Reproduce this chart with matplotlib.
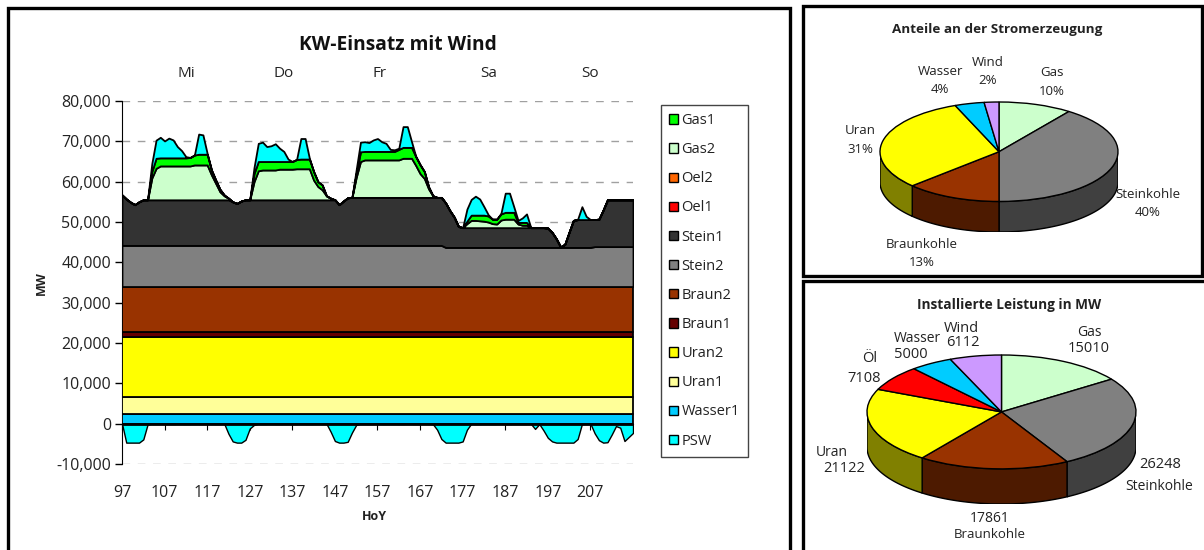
import numpy as np
import matplotlib
matplotlib.use('Agg')
import matplotlib.pyplot as plt
from matplotlib.patches import Patch, Rectangle

plt.rcParams['font.family'] = ['Open Sans', 'DejaVu Sans']
plt.rcParams['axes.unicode_minus'] = False

W, H = 1204, 550

# Hour of year axis
hours = np.arange(97, 218)
day_names = ['Mi', 'Do', 'Fr', 'Sa', 'So']
day_hours = [112, 135, 157.5, 183, 207]

# Flat layers [MW]
wasser1 = [2500] * 121
uran1 = [4000] * 121
uran2 = [15000] * 121
braun1 = [1300] * 121
braun2 = [11200] * 121
stein2 = [10200] * 76 + [9700] * 35 + [9900] * 10

# Upper edge of Stein1 [MW]
stein1_top = ([56700, 55700, 54900, 54300, 55000] + [55500] * 21 +
              [55000, 54600, 55200] + [55500] * 22 +
              [54300, 55200, 56000] + [56100] * 22 +
              [54700, 52800, 51200, 48900] + [48600] * 20 +
              [48500, 47400, 45800, 43800, 44500, 47500, 50400] +
              [50600] * 5 + [50700, 53000] + [55500] * 7)

# Gas and pump storage, given per day as (first hour, values)
gas2_days = [
    (103, [0, 5400, 7800, 8400, 8400, 8400, 8400, 8400, 8400, 8400, 8400, 8650, 8650, 8650, 8650, 6200, 4100, 2000, 1000, 400]),
    (127, [0, 4500, 7200, 7400, 7400, 7400, 7400, 7600, 7600, 7600, 7600, 7700, 7700, 7700, 7700, 4900, 3300, 2500, 1000, 400]),
    (151, [0, 5000, 8900, 9300, 9300, 9300, 9300, 9300, 9300, 9300, 9300, 9300, 9700, 9700, 9700, 7900, 5900, 4700, 2100, 400]),
    (177, [0, 1000, 1800, 1800, 1700, 1600, 1400, 1000, 900, 1900, 2100, 2100, 2100, 900, 600, 600]),
]
gas1_days = [
    (104, [1600, 2500, 2000, 2000, 2000, 2000, 2000, 2000, 2000, 2100, 2450, 2650, 2650, 2650, 1200, 800, 600, 200]),
    (128, [2000, 2300, 2100, 2100, 2100, 2100, 1900, 1900, 1900, 1900, 2300, 2400, 2400, 2400, 2100, 1200, 1200]),
    (152, [900, 2400, 2100, 2100, 2100, 2100, 2100, 2100, 2100, 2100, 2600, 2700, 2700, 2700, 2200, 2200, 1700, 500]),
    (178, [600, 1300, 1300, 1400, 1500, 1500, 1100, 1200, 1500, 1700, 1700, 1700, 400, 700, 700]),
]
psw_pos_days = [
    (104, [2000, 4500, 5100, 4200, 4900, 4450, 2800, 1800, 300, 0, 0, 5000, 4800, 200]),
    (128, [1500, 4500, 4800, 3700, 3900, 4400, 3300, 2500, 600, 0, 0, 5100, 5100, 200]),
    (152, [1000, 2400, 2400, 2200, 2850, 3200, 2400, 2000, 500, 400, 300, 5150, 5150, 1400]),
    (178, [3000, 3900, 4700, 4000, 2100, 300, 0, 0, 200, 4750, 4750, 1400, 500, 1100, 2100]),
    (204, [100, 3200, 800]),
]
psw_neg_days = [
    (97, [0, -4700, -4700, -4700, -4700, -3900, -200]),
    (121, [0, -2500, -4400, -4700, -4700, -4000, -1200, -300]),
    (145, [0, -2000, -4300, -4700, -4700, -4500, -2200, -300]),
    (170, [-100, -1500, -3800, -4700, -4700, -4700, -4700, -4400, -1500]),
    (194, [-1300, -100, -1700, -3500, -4400, -4700, -4700, -4700, -4700, -4700, -3800, -100]),
    (208, [-2400, -4100, -4700, -4600, -2700, -600, -1000, -4300, -3300, -2300]),
]

# Pie charts
pie1_values = [10, 40, 13, 31, 4, 2]
pie1_colors = ['#CCFFCC', '#808080', '#993300', '#FFFF00', '#00CCFF', '#CC99FF']
pie2_values = [15010, 26248, 17861, 21122, 7108, 5000, 6112]
pie2_colors = ['#CCFFCC', '#808080', '#993300', '#FFFF00', '#FF0000', '#00CCFF', '#CC99FF']

legend_names = ['Gas1', 'Gas2', 'Oel2', 'Oel1', 'Stein1', 'Stein2', 'Braun2', 'Braun1',
                'Uran2', 'Uran1', 'Wasser1', 'PSW']
legend_colors = ['#00FF00', '#CCFFCC', '#FF6600', '#FF0000', '#333333', '#808080', '#993300',
                 '#660000', '#FFFF00', '#FFFF99', '#00CCFF', '#00FFFF']


def from_days(days):
    out = np.zeros(len(hours))
    for first, vals in days:
        out[first - 97:first - 97 + len(vals)] = vals
    return out


def px_rect(x0, y0, x1, y1):
    # pixel box (y from the top) to figure fractions
    return [x0 / W, 1 - y1 / H, (x1 - x0) / W, (y1 - y0) / H]


def label(x, y, txt, **kw):
    kw.setdefault('fontsize', 9.5)
    kw.setdefault('color', '#222222')
    fig.text(x / W, 1 - y / H, txt, ha='center', va='center', **kw)


def pie3d(rect, values, colors, depth):
    # depth is given as a share of the vertical radius
    ax = fig.add_axes(rect)
    ax.pie(values, colors=colors, startangle=90, counterclock=False, radius=1,
           wedgeprops=dict(edgecolor='black', linewidth=1))
    ax.set_aspect('auto')
    ax.set_xlim(-1, 1)
    ax.set_ylim(-1 - depth, 1)
    edges = 90 - 360 * np.cumsum([0] + list(values)) / np.sum(values)
    for k, col in enumerate(colors):
        a0, a1 = edges[k + 1] % 360, edges[k] % 360
        if a1 < a0:
            a1 += 360
        for lo, hi in [(180, 360), (540, 720)]:
            s, e = max(a0, lo), min(a1, hi)
            if e <= s:
                continue
            th = np.radians(np.linspace(s, e, 60))
            xs = np.r_[np.cos(th), np.cos(th[::-1])]
            ys = np.r_[np.sin(th), np.sin(th[::-1]) - depth]
            dark = tuple(c / 2 for c in matplotlib.colors.to_rgb(col))
            ax.fill(xs, ys, facecolor=dark, edgecolor='black', linewidth=1, zorder=0)
    return ax


fig = plt.figure(figsize=(W / 100, H / 100), dpi=100)

# Panel frames
for x0, y0, x1, y1 in [(8, 8, 790, 560), (803, 6, 1202, 276), (803, 281, 1210, 560)]:
    fig.add_artist(Rectangle((x0 / W, 1 - y1 / H), (x1 - x0) / W, (y1 - y0) / H,
                             transform=fig.transFigure, fill=False, edgecolor='black', linewidth=2.4))

# Main chart
ax = fig.add_axes(px_rect(122, 101, 633, 464))
stack_colors = ['#00CCFF', '#FFFF99', '#FFFF00', '#660000', '#993300', '#808080', '#333333',
                '#CCFFCC', '#00FF00', '#00FFFF']
stein1 = np.array(stein1_top) - np.sum([wasser1, uran1, uran2, braun1, braun2, stein2], axis=0)
ax.stackplot(hours, wasser1, uran1, uran2, braun1, braun2, stein2, stein1,
             from_days(gas2_days), from_days(gas1_days), from_days(psw_pos_days),
             colors=stack_colors, edgecolor='black', linewidth=1.3, zorder=3)
ax.fill_between(hours, 0, from_days(psw_neg_days), facecolor='#00FFFF', edgecolor='black',
                linewidth=1, zorder=2)
ax.axhline(0, color='black', linewidth=2, zorder=4)

ax.set_xlim(97, 217)
ax.set_ylim(-10000, 80000)
ax.set_yticks(np.arange(-10000, 80001, 10000))
ax.yaxis.set_major_formatter(matplotlib.ticker.StrMethodFormatter('{x:,.0f}'))
ax.tick_params(axis='y', labelsize=11.5, length=5, width=1, pad=3, labelcolor='#222222')
ax.grid(axis='y', color='#a0a0a0', linestyle=(0, (5.5, 5.5)), linewidth=1, zorder=0)
ax.set_axisbelow(True)
for side in ['top', 'right']:
    ax.spines[side].set_visible(False)
ax.spines['bottom'].set_position(('data', 0))
ax.spines['bottom'].set_zorder(5)
ax.set_xticks(np.arange(97, 217, 10))
ax.tick_params(axis='x', direction='out', length=4, labelbottom=False)

low = ax.secondary_xaxis(0)
low.set_xticks(np.arange(97, 217, 10))
low.tick_params(axis='x', length=0, labelsize=11.5, pad=15, labelcolor='#222222')
low.spines['bottom'].set_visible(False)

for name, h in zip(day_names, day_hours):
    ax.text(h, 86700, name, ha='center', va='center', fontsize=11, color='#222222')

label(398, 45, 'KW-Einsatz mit Wind', fontsize=13.8, fontweight='bold', color='#111111')
label(41, 283, 'MW', fontsize=9, fontweight='bold', rotation=90)
label(374, 516, 'HoY', fontsize=9, fontweight='bold')

handles = [Patch(facecolor=c, edgecolor='black', linewidth=1) for c in legend_colors]
ax.legend(handles, legend_names, loc='upper left', bbox_to_anchor=(661 / W, 1 - 105 / H),
          bbox_transform=fig.transFigure, fontsize=10.5, handlelength=0.6, handleheight=0.6,
          handletextpad=0.25, labelspacing=0.97, borderpad=0.55, borderaxespad=0, fancybox=False,
          framealpha=1, edgecolor='#444444', labelcolor='#222222')

# Upper pie
pie3d(px_rect(880, 102, 1118, 232), pie1_values, pie1_colors, 30.7 / 50)
label(997, 29, 'Anteile an der Stromerzeugung', fontweight='bold', fontsize=9.7)
label(1052, 73, 'Gas')
label(1052, 91, '10%')
label(988, 62, 'Wind')
label(988, 80, '2%')
label(941, 71, 'Wasser')
label(940, 90, '4%')
label(860, 131, 'Uran')
label(860, 149, '31%')
label(1148, 194, 'Steinkohle')
label(1148, 212, '40%')
label(922, 244, 'Braunkohle')
label(922, 262, '13%')

# Lower pie
pie3d(px_rect(867, 355, 1136, 504), pie2_values, pie2_colors, 35 / 56.7)
label(1009, 305, 'Installierte Leistung in MW', fontweight='bold', fontsize=9.8)
label(1089, 332, 'Gas', fontsize=10)
label(1089, 348, '15010', fontsize=10.5)
label(961, 329, 'Wind', fontsize=10.5)
label(963, 343, '6112', fontsize=10.5)
label(917, 338, 'Wasser', fontsize=10)
label(911, 354, '5000', fontsize=10.5)
label(870, 358, 'Öl', fontsize=10.5)
label(864, 379, '7108', fontsize=10.5)
label(832, 453, 'Uran', fontsize=10)
label(844, 468, '21122', fontsize=10.5)
label(1160, 465, '26248', fontsize=10.5)
label(1159, 486, 'Steinkohle', fontsize=10)
label(990, 518, '17861', fontsize=10)
label(990, 534, 'Braunkohle', fontsize=9.5)

fig.savefig('out.png', dpi=100)
